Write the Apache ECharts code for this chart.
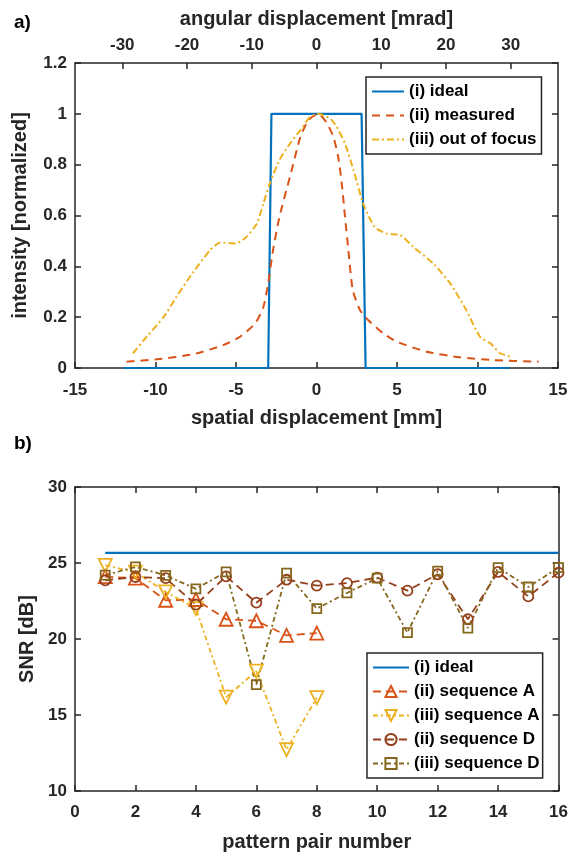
<!DOCTYPE html>
<html>
<head>
<meta charset="utf-8">
<script src="https://cdn.jsdelivr.net/npm/echarts@6/dist/echarts.min.js"></script>
<style>
  html, body { margin: 0; padding: 0; background: #fff; }
  #chart { width: 571px; height: 853px; }
</style>
</head>
<body>
<div id="chart"></div>
<script>
// ---- panel a) beam profile ----
const idealX = [-12, -3, -2.8, 2.8, 3.05, 12];
const idealY = [0, 0, 1, 1, 0, 0];

const measX = [-11.8, -9.9, -7.6, -5.8, -4.75, -3.8, -3.3, -3.0, -2.7, -2.3, -1.65, -1.0, -0.5, 0.1, 0.6, 1.05, 1.35, 1.57, 1.77, 1.98, 2.25, 2.7, 3.2, 4.15, 5.0, 6.85, 8.9, 11.0, 13.8];
const measY = [0.025, 0.034, 0.055, 0.09, 0.123, 0.176, 0.24, 0.333, 0.464, 0.595, 0.752, 0.909, 0.975, 1.0, 0.968, 0.909, 0.83, 0.726, 0.595, 0.464, 0.307, 0.228, 0.189, 0.136, 0.103, 0.064, 0.042, 0.031, 0.025];

const oofX = [-11.4, -10.55, -9.5, -8.7, -7.65, -6.6, -6.0, -5.0, -4.35, -3.7, -3.3, -2.9, -2.3, -1.65, -1.0, -0.4, 0.1, 0.85, 1.25, 1.77, 2.3, 2.9, 3.6, 4.35, 5.2, 6.0, 7.25, 8.3, 9.3, 10.15, 10.8, 11.4, 12.1];
const oofY = [0.058, 0.123, 0.2, 0.28, 0.378, 0.464, 0.493, 0.49, 0.516, 0.569, 0.647, 0.726, 0.818, 0.883, 0.936, 0.988, 1.0, 0.981, 0.949, 0.883, 0.778, 0.647, 0.555, 0.529, 0.523, 0.477, 0.411, 0.333, 0.228, 0.123, 0.097, 0.058, 0.044];

const mradTicks = [-30, -20, -10, 0, 10, 20, 30];
const mradRange = 37.3;   // 15 mm on the top axis

// ---- panel b) SNR per pattern pair ----
const pairs = [1, 2, 3, 4, 5, 6, 7, 8, 9, 10, 11, 12, 13, 14, 15, 16];
const idealSnrX = [1, 16];
const idealSnrY = [25.66, 25.66];
const iiA = [24.1, 24.0, 22.55, 22.6, 21.3, 21.2, 20.24, 20.39];
const iiiA = [24.85, 24.4, 23.1, 22.0, 16.18, 17.88, 12.72, 16.14];
const iiD = [23.86, 24.08, 24.0, 22.26, 24.12, 22.39, 23.9, 23.51, 23.68, 24.04, 23.18, 24.26, 21.3, 24.41, 22.8, 24.37];
const iiiD = [24.2, 24.74, 24.19, 23.3, 24.41, 17.0, 24.34, 22.0, 23.03, 24.0, 20.42, 24.47, 20.72, 24.7, 23.42, 24.7];

const BLUE = '#0072BD', ORANGE = '#D95319', YELLOW = '#EDB120', RUST = '#943F1B', OLIVE = '#86661C';
const INK = '#262626';
const FONT = 'Liberation Sans';

const zip = (xs, ys) => ys.map((y, i) => [xs[i], y]);

const axisLine = { show: true, onZero: false, lineStyle: { color: INK, width: 1.5 } };
const tick = { show: true, inside: true, length: 6, lineStyle: { color: INK, width: 1.5 } };
const label = { color: INK, fontFamily: FONT, fontWeight: 'bold', fontSize: 17 };
const nameStyle = { color: INK, fontFamily: FONT, fontWeight: 'bold', fontSize: 20 };
const legendText = { color: '#000', fontFamily: FONT, fontWeight: 'bold', fontSize: 17 };
const noDot = { opacity: 0 };   // plain line samples, no marker in the key

const chart = echarts.init(document.getElementById('chart'), null, { renderer: 'canvas' });

const option = {
  animation: false,
  backgroundColor: '#fff',
  title: [
    { text: 'a)', left: 9, top: 8, textStyle: { color: '#000', fontFamily: FONT, fontWeight: 'bold', fontSize: 19 } },
    { text: 'b)', left: 9, top: 429, textStyle: { color: '#000', fontFamily: FONT, fontWeight: 'bold', fontSize: 19 } }
  ],
  grid: [
    { left: 75, right: 13, top: 63, height: 305 },
    { left: 75, right: 12, top: 487, height: 304 }
  ],
  xAxis: [
    {
      gridIndex: 0, type: 'value', position: 'bottom', min: -15, max: 15, interval: 5,
      name: 'spatial displacement [mm]', nameLocation: 'middle', nameGap: 40, nameTextStyle: nameStyle,
      axisLine, axisTick: tick, axisLabel: { ...label, margin: 14 }, splitLine: { show: false }
    },
    {
      gridIndex: 0, type: 'value', position: 'top', min: -mradRange, max: mradRange,
      name: 'angular displacement [mrad]', nameLocation: 'middle', nameGap: 34, nameTextStyle: nameStyle,
      axisLine, axisTick: { ...tick, customValues: mradTicks },
      axisLabel: { ...label, margin: 9, customValues: mradTicks }, splitLine: { show: false }
    },
    {
      gridIndex: 1, type: 'value', position: 'bottom', min: 0, max: 16, interval: 2,
      name: 'pattern pair number', nameLocation: 'middle', nameGap: 41, nameTextStyle: nameStyle,
      axisLine, axisTick: tick, axisLabel: { ...label, margin: 13 }, splitLine: { show: false }
    },
    {
      gridIndex: 1, type: 'value', position: 'top', min: 0, max: 16, interval: 2,
      axisLine, axisTick: tick, axisLabel: { show: false }, splitLine: { show: false }
    }
  ],
  yAxis: [
    {
      gridIndex: 0, type: 'value', position: 'left', min: 0, max: 1.2, interval: 0.2,
      name: 'intensity [normalized]', nameLocation: 'middle', nameGap: 45, nameTextStyle: nameStyle,
      axisLine, axisTick: tick, axisLabel: { ...label, margin: 8 }, splitLine: { show: false }
    },
    {
      gridIndex: 0, type: 'value', position: 'right', min: 0, max: 1.2, interval: 0.2,
      axisLine, axisTick: tick, axisLabel: { show: false }, splitLine: { show: false }
    },
    {
      gridIndex: 1, type: 'value', position: 'left', min: 10, max: 30, interval: 5,
      name: 'SNR [dB]', nameLocation: 'middle', nameGap: 36, nameTextStyle: nameStyle,
      axisLine, axisTick: tick, axisLabel: { ...label, margin: 8 }, splitLine: { show: false }
    },
    {
      gridIndex: 1, type: 'value', position: 'right', min: 10, max: 30, interval: 5,
      axisLine, axisTick: tick, axisLabel: { show: false }, splitLine: { show: false }
    }
  ],
  legend: [
    {
      data: [
        { name: '(i) ideal', itemStyle: noDot },
        { name: '(ii) measured', itemStyle: noDot },
        { name: '(iii) out of focus', itemStyle: noDot }
      ],
      orient: 'vertical', left: 366, top: 77, padding: [6, 5, 6, 5],
      itemWidth: 32, itemHeight: 14, itemGap: 7,
      backgroundColor: '#fff', borderColor: INK, borderWidth: 1.5,
      textStyle: legendText, selectedMode: false
    },
    {
      data: [
        { name: '(i) ideal', itemStyle: noDot },
        '(ii) sequence A', '(iii) sequence A', '(ii) sequence D', '(iii) sequence D'
      ],
      orient: 'vertical', left: 367, top: 653, padding: [6, 3, 6, 5],
      itemWidth: 36, itemHeight: 14, itemGap: 7,
      backgroundColor: '#fff', borderColor: INK, borderWidth: 1.5,
      textStyle: legendText, selectedMode: false
    }
  ],
  series: [
    {
      name: '(i) ideal', type: 'line', xAxisIndex: 0, yAxisIndex: 0, clip: false,
      data: zip(idealX, idealY), symbol: 'none', color: BLUE,
      lineStyle: { color: BLUE, width: 2.2 }
    },
    {
      name: '(ii) measured', type: 'line', xAxisIndex: 0, yAxisIndex: 0,
      data: zip(measX, measY), symbol: 'none', smooth: 0.2, color: ORANGE,
      lineStyle: { color: ORANGE, width: 2, type: [8, 6] }
    },
    {
      name: '(iii) out of focus', type: 'line', xAxisIndex: 0, yAxisIndex: 0,
      data: zip(oofX, oofY), symbol: 'none', smooth: 0.2, color: YELLOW,
      lineStyle: { color: YELLOW, width: 2, type: [7, 3, 2, 3] }
    },
    {
      name: '(i) ideal', type: 'line', xAxisIndex: 2, yAxisIndex: 2,
      data: zip(idealSnrX, idealSnrY), symbol: 'none', color: BLUE,
      lineStyle: { color: BLUE, width: 2.2 }
    },
    {
      name: '(ii) sequence A', type: 'line', xAxisIndex: 2, yAxisIndex: 2,
      data: zip(pairs, iiA), symbol: 'triangle', symbolSize: 13, color: ORANGE,
      itemStyle: { color: 'transparent', borderColor: ORANGE, borderWidth: 1.8 },
      lineStyle: { color: ORANGE, width: 1.8, type: [8, 5] }
    },
    {
      name: '(iii) sequence A', type: 'line', xAxisIndex: 2, yAxisIndex: 2,
      data: zip(pairs, iiiA), symbol: 'triangle', symbolRotate: 180, symbolSize: 13, color: YELLOW,
      itemStyle: { color: 'transparent', borderColor: YELLOW, borderWidth: 1.8 },
      lineStyle: { color: YELLOW, width: 1.8, type: [5, 3, 2, 3] }
    },
    {
      name: '(ii) sequence D', type: 'line', xAxisIndex: 2, yAxisIndex: 2,
      data: zip(pairs, iiD), symbol: 'circle', symbolSize: 10, color: RUST,
      itemStyle: { color: 'transparent', borderColor: RUST, borderWidth: 1.8 },
      lineStyle: { color: RUST, width: 1.8, type: [8, 5] }
    },
    {
      name: '(iii) sequence D', type: 'line', xAxisIndex: 2, yAxisIndex: 2,
      data: zip(pairs, iiiD), symbol: 'rect', symbolSize: 9, color: OLIVE,
      itemStyle: { color: 'transparent', borderColor: OLIVE, borderWidth: 1.8 },
      lineStyle: { color: OLIVE, width: 1.8, type: [5, 3, 2, 3] }
    }
  ]
};

chart.setOption(option);
</script>
</body>
</html>
